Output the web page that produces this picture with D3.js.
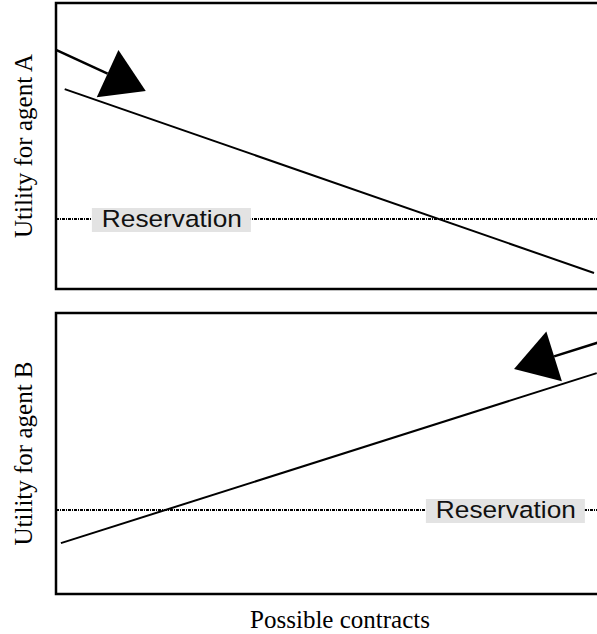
<!DOCTYPE html>
<html>
<head>
<meta charset="utf-8">
<script src="https://cdn.jsdelivr.net/npm/d3@7/dist/d3.min.js"></script>
<style>
  html, body { margin: 0; padding: 0; background: #fff; }
  svg { display: block; }
</style>
</head>
<body>
<div id="chart"></div>
<script>
// panel names and axis labels
const panels = ['A', 'B'];
const yLabels = ['Utility for agent A', 'Utility for agent B'];
const xLabel = 'Possible contracts';

// utility lines, [contract, utility] on a 0-100 scale
const utilityA = [[1.6, 69.9], [98.9, 5.6]];
const utilityB = [[0.9, 18.1], [99.4, 78.6]];

// arrows showing the direction of concession: [start, tip]
const arrowA = [[0, 83.6], [16.5, 69.2]];
const arrowB = [[100, 89.7], [84.2, 80.1]];

// reservation levels and where their labels sit
const reservation = [24.5, 29.9];
const reservationLabelX = [21.3, 82.7];
const reservationText = 'Reservation';

const width = 597, height = 634;
const svg = d3.select('#chart').append('svg')
    .attr('width', width)
    .attr('height', height);

const x = d3.scaleLinear().domain([0, 100]).range([56, 600]);
const yScales = [
    d3.scaleLinear().domain([0, 100]).range([289, 3]),
    d3.scaleLinear().domain([0, 100]).range([594, 313])
];

const lines = [utilityA, utilityB];
const arrows = [arrowA, arrowB];

panels.forEach((p, i) => {
    const y = yScales[i];
    const g = svg.append('g').attr('class', 'panel-' + p);
    const ry = Math.round(y(reservation[i]));

    // reservation line (dash-dot)
    g.append('line')
        .attr('x1', x(0)).attr('x2', x(100))
        .attr('y1', ry).attr('y2', ry)
        .attr('stroke', '#000')
        .attr('stroke-width', 2)
        .attr('shape-rendering', 'crispEdges')
        .attr('stroke-dasharray', '3,1,1,1');

    // label with grey box
    const cx = x(reservationLabelX[i]);
    g.append('rect')
        .attr('x', cx - 80).attr('y', ry - 11)
        .attr('width', 159).attr('height', 24)
        .attr('fill', '#e3e3e3');
    g.append('text')
        .attr('x', cx - 70)
        .attr('y', ry + 8)
        .attr('font-family', 'Liberation Sans, Arial, sans-serif')
        .attr('font-size', 24.5)
        .attr('textLength', 140)
        .attr('lengthAdjust', 'spacingAndGlyphs')
        .attr('fill', '#111')
        .text(reservationText);

    // utility line
    const line = d3.line().x(d => x(d[0])).y(d => y(d[1]));
    g.append('path')
        .datum(lines[i])
        .attr('d', line)
        .attr('fill', 'none')
        .attr('stroke', '#000')
        .attr('stroke-width', 2);

    // arrow: shaft + triangle head
    const [s, t] = arrows[i];
    const sx = x(s[0]), sy = y(s[1]), tx = x(t[0]), ty = y(t[1]);
    const len = Math.hypot(tx - sx, ty - sy);
    const ux = (tx - sx) / len, uy = (ty - sy) / len;
    const headLen = 42, headHalf = 26;
    const bx = tx - ux * headLen, by = ty - uy * headLen;
    g.append('line')
        .attr('x1', sx).attr('y1', sy).attr('x2', bx).attr('y2', by)
        .attr('stroke', '#000').attr('stroke-width', 2.5);
    g.append('path')
        .attr('d', `M${tx},${ty}L${bx - uy * headHalf},${by + ux * headHalf}L${bx + uy * headHalf},${by - ux * headHalf}Z`)
        .attr('fill', '#000');

    // frame
    g.append('rect')
        .attr('x', x(0)).attr('y', y(100))
        .attr('width', x(100) - x(0)).attr('height', y(0) - y(100))
        .attr('fill', 'none')
        .attr('stroke', '#000')
        .attr('stroke-width', 2.5);

    // y label
    const ym = (y(0) + y(100)) / 2;
    svg.append('text')
        .attr('transform', `translate(32,${ym}) rotate(-90)`)
        .attr('text-anchor', 'middle')
        .attr('font-family', 'Liberation Serif, Times New Roman, serif')
        .attr('font-size', 25)
        .attr('textLength', 184)
        .attr('lengthAdjust', 'spacingAndGlyphs')
        .text(yLabels[i]);
});

svg.append('text')
    .attr('x', 340).attr('y', 628)
    .attr('text-anchor', 'middle')
    .attr('font-family', 'Liberation Serif, Times New Roman, serif')
    .attr('font-size', 25)
    .text(xLabel);
</script>
</body>
</html>
